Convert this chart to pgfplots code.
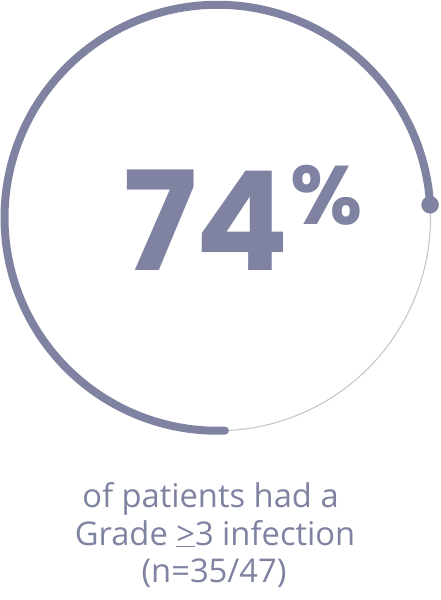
\documentclass[border=0pt]{standalone}
\usepackage{fontspec}
\setmainfont{Open Sans}
\newfontfamily\pop{Poppins}
\usepackage{pgfplots}
\pgfplotsset{compat=1.18}
\definecolor{ring}{RGB}{127,131,161}
\definecolor{track}{RGB}{198,198,210}
\begin{document}
\begin{tikzpicture}
\begin{axis}[at={(0,0)},anchor=south west,scale only axis,
  width=440pt,height=600pt,xmin=0,xmax=440,ymin=0,ymax=600,
  y dir=reverse,hide axis,clip=false]
% remaining 26% (thin track)
\addplot[track,line width=1.1pt,domain=-88:3.5,samples=120,no markers]
  ({217.5+213*cos(x)},{217.75-213*sin(x)});
% 74% (thick arc)
\addplot[ring,line width=8pt,line cap=round,domain=-356.5:-88,samples=360,no markers]
  ({217.5+213*cos(x)},{217.75-213*sin(x)});
% end dot
\addplot[ring,only marks,mark=*,mark size=8.5pt] coordinates {(430.1,204.8)};
\node[ring,anchor=base west,inner sep=0pt] at (axis cs:123,270)
  {\pop\bfseries\fontsize{138}{138}\selectfont 7\kern-1.5pt4};
\node[ring,anchor=north west,inner sep=0pt] at (axis cs:290,165)
  {\pop\bfseries\fontsize{83}{83}\selectfont \%};
\node[ring,anchor=base,inner sep=0pt] at (axis cs:210.5,507)
  {\fontsize{32.7}{37}\selectfont of patients had a};
\node[ring,anchor=base,inner sep=0pt] at (axis cs:215,545)
  {\fontsize{32.7}{37}\selectfont Grade \underline{>}3 infection};
\node[ring,anchor=base,inner sep=0pt] at (axis cs:214,582)
  {\fontsize{32.7}{37}\selectfont (n=35/47)};
\end{axis}
\pgfresetboundingbox
\path[use as bounding box] (0,0) rectangle (440pt,600pt);
\end{tikzpicture}
\end{document}
